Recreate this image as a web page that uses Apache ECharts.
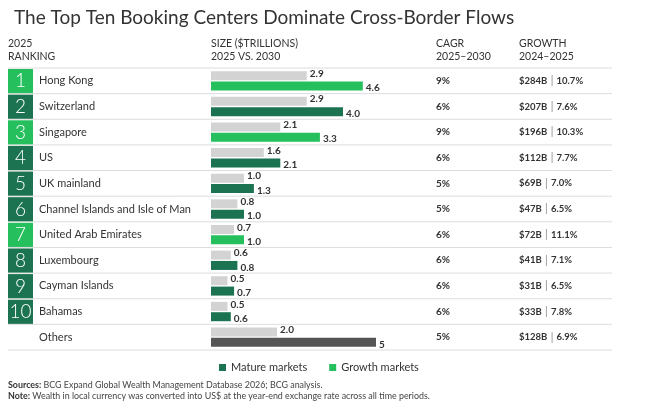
<!DOCTYPE html>
<html>
<head>
<meta charset="utf-8">
<script src="https://cdn.jsdelivr.net/npm/echarts@6/dist/echarts.min.js"></script>
<style>
  html, body { margin: 0; padding: 0; background: #fff; }
  #main { width: 646px; height: 415px; }
</style>
</head>
<body>
<div id="main"></div>
<script>
// table data
var ranks = ["1", "2", "3", "4", "5", "6", "7", "8", "9", "10", ""];
var centers = ["Hong Kong", "Switzerland", "Singapore", "US", "UK mainland",
  "Channel Islands and Isle of Man", "United Arab Emirates", "Luxembourg",
  "Cayman Islands", "Bahamas", "Others"];
var size2025 = [2.9, 2.9, 2.1, 1.6, 1.0, 0.8, 0.7, 0.6, 0.5, 0.5, 2.0];
var size2030 = [4.6, 4.0, 3.3, 2.1, 1.3, 1.0, 1.0, 0.8, 0.7, 0.6, 5];
var marketType = ["growth", "mature", "growth", "mature", "mature", "mature",
  "growth", "mature", "mature", "mature", "other"];
var cagr = ["9%", "6%", "9%", "6%", "5%", "5%", "6%", "6%", "6%", "6%", "5%"];
var growthAbs = ["$284B", "$207B", "$196B", "$112B", "$69B", "$47B", "$72B",
  "$41B", "$31B", "$33B", "$128B"];
var growthPct = ["10.7%", "7.6%", "10.3%", "7.7%", "7.0%", "6.5%", "11.1%",
  "7.1%", "6.5%", "7.8%", "6.9%"];

var FONT = "Lato, 'Noto Sans', sans-serif";
var colors = { mature: "#1b7352", growth: "#25bf5e", other: "#555555" };

var chart = echarts.init(document.getElementById("main"));

function tableRow(params, api) {
  var i = api.value(1);
  var c = api.coord([0, i]);
  var band = api.size([0, 1])[1];
  var top = c[1] - band / 2;
  var kids = [];
  if (i === 0) {
    kids.push({ type: "line", shape: { x1: 8, y1: top, x2: 612, y2: top },
      style: { stroke: "#dcdcdc", lineWidth: 1 } });
  }
  kids.push({ type: "line", shape: { x1: 8, y1: top + band, x2: 612, y2: top + band },
    style: { stroke: "#dcdcdc", lineWidth: 1 } });
  if (ranks[i]) {
    kids.push({ type: "rect", shape: { x: 8, y: top + 1, width: 25, height: band - 1.5 },
      style: { fill: colors[marketType[i]] } });
    kids.push({ type: "text", x: 20.5, y: c[1] + 0.5,
      style: { text: ranks[i], fill: "#fff", font: "300 19px " + FONT,
        align: "center", verticalAlign: "middle" } });
  }
  kids.push({ type: "text", x: 39, y: c[1],
    style: { text: centers[i], fill: "#333", font: "11px " + FONT, verticalAlign: "middle" } });
  kids.push({ type: "text", x: 436, y: c[1],
    style: { text: cagr[i], fill: "#333", font: "bold 10px " + FONT, verticalAlign: "middle" } });
  kids.push({ type: "text", x: 519, y: c[1],
    style: {
      text: "{b|" + growthAbs[i] + "} {s||} {b|" + growthPct[i] + "}",
      verticalAlign: "middle",
      rich: {
        b: { fontFamily: FONT, fontSize: 9.5, fontWeight: "bold", fill: "#333" },
        s: { fontFamily: FONT, fontSize: 10.5, fill: "#888" }
      }
    } });
  return { type: "group", children: kids };
}

var option = {
  animation: false,
  title: {
    text: "The Top Ten Booking Centers Dominate Cross-Border Flows",
    left: 9, top: 3,
    textStyle: { fontFamily: FONT, fontSize: 19, fontWeight: "normal", color: "#333" }
  },
  legend: {
    data: ["Mature markets", "Growth markets"],
    left: 214, top: 357,
    icon: "rect", itemWidth: 7, itemHeight: 7, itemGap: 22,
    textStyle: { fontFamily: FONT, fontSize: 11, color: "#333" }
  },
  grid: { left: 211, top: 68, height: 282, width: 198 },
  xAxis: { type: "value", min: 0, max: 6, show: false },
  yAxis: { type: "category", inverse: true, data: centers, show: false },
  graphic: [
    { type: "text", left: 8, top: 37,
      style: { text: "2025\nRANKING", font: "10.5px " + FONT, lineHeight: 13, fill: "#333" } },
    { type: "text", left: 211, top: 37,
      style: { text: "SIZE ($TRILLIONS)\n2025 VS. 2030", font: "10.5px " + FONT, lineHeight: 13, fill: "#333" } },
    { type: "text", left: 436, top: 37,
      style: { text: "CAGR\n2025\u20132030", font: "10.5px " + FONT, lineHeight: 13, fill: "#333" } },
    { type: "text", left: 519, top: 37,
      style: { text: "GROWTH\n2024\u20132025", font: "10.5px " + FONT, lineHeight: 13, fill: "#333" } },
    { type: "text", left: 8, top: 379,
      style: {
        text: "{b|Sources:} BCG Expand Global Wealth Management Database 2026; BCG analysis.\n" +
          "{b|Note:} Wealth in local currency was converted into US$ at the year-end exchange rate across all time periods.",
        font: "8.9px " + FONT, lineHeight: 11.5, fill: "#444",
        rich: { b: { fontFamily: FONT, fontSize: 8.9, fontWeight: "bold", fill: "#333" } }
      } }
  ],
  series: [
    {
      type: "custom",
      clip: false,
      silent: true,
      renderItem: tableRow,
      data: centers.map(function (c, i) { return [0, i]; }),
      z: 1
    },
    {
      type: "bar",
      name: "2025",
      data: size2025,
      barWidth: 9,
      barGap: "15%",
      itemStyle: { color: "#d3d3d3" },
      label: {
        show: true, position: "right", distance: 3, offset: [0, -2],
        fontFamily: FONT, fontSize: 10, fontWeight: "bold", color: "#333",
        formatter: function (p) { return p.value.toFixed(1); }
      },
      z: 2
    },
    {
      type: "bar",
      name: "2030",
      data: size2030.map(function (v, i) {
        return { value: v, itemStyle: { color: colors[marketType[i]] } };
      }),
      barWidth: 9,
      label: {
        show: true, position: "right", distance: 3, offset: [0, 2],
        fontFamily: FONT, fontSize: 10, fontWeight: "bold", color: "#333",
        formatter: function (p) {
          return p.dataIndex === centers.length - 1 ? String(p.value) : p.value.toFixed(1);
        }
      },
      z: 2
    },
    // empty series only to feed the legend
    { type: "line", name: "Mature markets", data: [], color: colors.mature },
    { type: "line", name: "Growth markets", data: [], color: colors.growth }
  ]
};

chart.setOption(option);
</script>
</body>
</html>
